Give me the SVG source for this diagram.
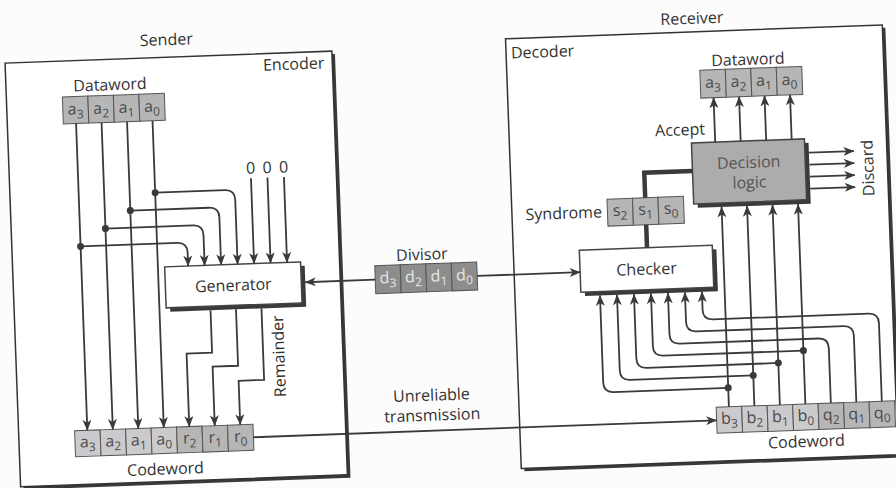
<svg xmlns="http://www.w3.org/2000/svg" width="896" height="488" viewBox="0 0 896 488">
<defs>
<marker id="ah" viewBox="0 0 11 9" refX="10.5" refY="4.5" markerWidth="11" markerHeight="9" markerUnits="userSpaceOnUse" orient="auto">
<path d="M0,0 L11,4.5 L0,9 L3,4.5 z" fill="#3a3a3a"/>
</marker>
<style>
text{font-family:"Open Sans","Noto Sans","Liberation Sans",sans-serif;fill:#333;font-size:16px}
.mid{text-anchor:middle}
.end{text-anchor:end}
.cell{font-size:16px;fill:#4a4a4a;text-anchor:middle}
.dcell{font-size:16px;fill:#e6e6e6;text-anchor:middle}
.sub{font-size:12px}
.gray{fill:#b6b6b6;stroke:#555;stroke-width:1}
.light{fill:#cccacc;stroke:#555;stroke-width:1}
.dark{fill:#8d8d8d;stroke:#555;stroke-width:1}
.frame{fill:#fff;stroke:#333;stroke-width:1.5}
.shadow{fill:#3a3a3a}
.box{fill:#fff;stroke:#444;stroke-width:1.5}
.wire{fill:none;stroke:#3a3a3a;stroke-width:1.8}
.arr{marker-end:url(#ah)}
.thick{fill:none;stroke:#3a3a3a;stroke-width:4.5}
.dot{fill:#3a3a3a}
</style>
</defs>
<rect x="0" y="0" width="896" height="488" fill="#fcfcfc"/>
<g transform="rotate(-2.1 448 244)">

<g id="sender">
<rect class="shadow" x="15" y="50" width="327" height="424"/>
<rect class="frame" x="12" y="47" width="327" height="424"/>
<text class="mid" x="174" y="35">Sender</text>
<text class="end" x="331" y="64">Encoder</text>
</g>

<g id="receiver">
<rect class="shadow" x="516" y="44" width="377" height="430"/>
<rect class="frame" x="513" y="41" width="377" height="430"/>
<text class="mid" x="700" y="33">Receiver</text>
<text x="518" y="61">Decoder</text>
</g>

<g id="sender-dataword">
<text class="mid" x="116" y="78">Dataword</text>
<rect class="gray" x="68" y="83" width="25.5" height="27"/>
<rect class="gray" x="93.5" y="83" width="25.5" height="27"/>
<rect class="gray" x="119" y="83" width="25.5" height="27"/>
<rect class="gray" x="144.5" y="83" width="25.5" height="27"/>
<text class="cell" x="80.75" y="101">a<tspan class="sub" dy="4">3</tspan></text>
<text class="cell" x="106.25" y="101">a<tspan class="sub" dy="4">2</tspan></text>
<text class="cell" x="131.75" y="101">a<tspan class="sub" dy="4">1</tspan></text>
<text class="cell" x="157.25" y="101">a<tspan class="sub" dy="4">0</tspan></text>
</g>

<g id="zeros">
<text class="mid" x="253.5" y="166.5">0</text>
<text class="mid" x="270" y="166.5">0</text>
<text class="mid" x="286.5" y="166.5">0</text>
</g>

<g id="generator">
<rect class="shadow" x="168" y="260.5" width="136" height="41"/>
<rect class="box" x="164" y="256.5" width="136" height="41"/>
<text class="mid" x="232" y="283">Generator</text>
</g>

<g id="remainder-label">
<text class="mid" transform="translate(280.5 350) rotate(-90)">Remainder</text>
</g>

<g id="sender-codeword">
<rect class="light" x="68" y="417" width="25.5" height="26"/>
<rect class="light" x="93.5" y="417" width="25.5" height="26"/>
<rect class="light" x="119" y="417" width="25.5" height="26"/>
<rect class="light" x="144.5" y="417" width="25.5" height="26"/>
<rect class="gray" x="170" y="417" width="25.5" height="26"/>
<rect class="gray" x="195.5" y="417" width="25.5" height="26"/>
<rect class="gray" x="221" y="417" width="25.5" height="26"/>
<text class="cell" x="80.75" y="434">a<tspan class="sub" dy="4">3</tspan></text>
<text class="cell" x="106.25" y="434">a<tspan class="sub" dy="4">2</tspan></text>
<text class="cell" x="131.75" y="434">a<tspan class="sub" dy="4">1</tspan></text>
<text class="cell" x="157.25" y="434">a<tspan class="sub" dy="4">0</tspan></text>
<text class="cell" x="182.75" y="434">r<tspan class="sub" dy="4">2</tspan></text>
<text class="cell" x="208.25" y="434">r<tspan class="sub" dy="4">1</tspan></text>
<text class="cell" x="233.75" y="434">r<tspan class="sub" dy="4">0</tspan></text>
<text class="mid" x="157.5" y="464">Codeword</text>
</g>

<g id="divisor">
<text class="mid" x="421.5" y="259">Divisor</text>
<rect class="dark" x="374" y="263" width="25.5" height="28"/>
<rect class="dark" x="399.5" y="263" width="25.5" height="28"/>
<rect class="dark" x="425" y="263" width="25.5" height="28"/>
<rect class="dark" x="450.5" y="263" width="25.5" height="28"/>
<text class="dcell" x="386.75" y="281">d<tspan class="sub" dy="4">3</tspan></text>
<text class="dcell" x="412.25" y="281">d<tspan class="sub" dy="4">2</tspan></text>
<text class="dcell" x="437.75" y="281">d<tspan class="sub" dy="4">1</tspan></text>
<text class="dcell" x="463.25" y="281">d<tspan class="sub" dy="4">0</tspan></text>
</g>

<g id="channel-label">
<text class="mid" x="426" y="400">Unreliable</text>
<text class="mid" x="426" y="420">transmission</text>
</g>

<g id="receiver-dataword">
<text class="mid" x="754.5" y="76">Dataword</text>
<rect class="gray" x="706" y="79.5" width="25.5" height="28"/>
<rect class="gray" x="731.5" y="79.5" width="25.5" height="28"/>
<rect class="gray" x="757" y="79.5" width="25.5" height="28"/>
<rect class="gray" x="782.5" y="79.5" width="25.5" height="28"/>
<text class="cell" x="718.75" y="97.5">a<tspan class="sub" dy="4">3</tspan></text>
<text class="cell" x="744.25" y="97.5">a<tspan class="sub" dy="4">2</tspan></text>
<text class="cell" x="769.75" y="97.5">a<tspan class="sub" dy="4">1</tspan></text>
<text class="cell" x="795.25" y="97.5">a<tspan class="sub" dy="4">0</tspan></text>
<text class="end" x="709" y="144">Accept</text>
</g>

<g id="decision-logic">
<rect class="shadow" x="699" y="156" width="113" height="61"/>
<rect x="695" y="152" width="113" height="61" fill="#acacac" stroke="#444" stroke-width="1.5"/>
<text class="mid" x="751.5" y="179" style="fill:#555">Decision</text>
<text class="mid" x="751.5" y="199" style="fill:#555">logic</text>
<text class="mid" transform="translate(876 183.5) rotate(-90)">Discard</text>
</g>

<g id="syndrome">
<text class="end" x="603" y="223">Syndrome</text>
<rect class="gray" x="608.5" y="205" width="25.5" height="27"/>
<rect class="gray" x="634" y="205" width="25.5" height="27"/>
<rect class="gray" x="659.5" y="205" width="25.5" height="27"/>
<text class="cell" x="621.25" y="222">s<tspan class="sub" dy="4">2</tspan></text>
<text class="cell" x="646.75" y="222">s<tspan class="sub" dy="4">1</tspan></text>
<text class="cell" x="672.25" y="222">s<tspan class="sub" dy="4">0</tspan></text>
</g>

<g id="checker">
<rect class="shadow" x="583" y="259" width="133" height="42"/>
<rect class="box" x="579" y="255" width="133" height="42"/>
<text class="mid" x="645.5" y="282">Checker</text>
</g>

<g id="receiver-codeword">
<rect class="light" x="710" y="417" width="25.5" height="26"/>
<rect class="light" x="735.5" y="417" width="25.5" height="26"/>
<rect class="light" x="761" y="417" width="25.5" height="26"/>
<rect class="light" x="786.5" y="417" width="25.5" height="26"/>
<rect class="gray" x="812" y="417" width="25.5" height="26"/>
<rect class="gray" x="837.5" y="417" width="25.5" height="26"/>
<rect class="gray" x="863" y="417" width="25.5" height="26"/>
<text class="cell" x="722.75" y="434">b<tspan class="sub" dy="4">3</tspan></text>
<text class="cell" x="748.25" y="434">b<tspan class="sub" dy="4">2</tspan></text>
<text class="cell" x="773.75" y="434">b<tspan class="sub" dy="4">1</tspan></text>
<text class="cell" x="799.25" y="434">b<tspan class="sub" dy="4">0</tspan></text>
<text class="cell" x="824.75" y="434">q<tspan class="sub" dy="4">2</tspan></text>
<text class="cell" x="850.25" y="434">q<tspan class="sub" dy="4">1</tspan></text>
<text class="cell" x="875.75" y="434">q<tspan class="sub" dy="4">0</tspan></text>
<text class="mid" x="799" y="460">Codeword</text>
</g>

<g id="connectors">
<path class="wire arr" d="M80.75,110 V417"/>
<path class="wire arr" d="M106.25,110 V417"/>
<path class="wire arr" d="M131.75,110 V417"/>
<path class="wire arr" d="M157.25,110 V417"/>
<path class="wire arr" d="M157.25,182 H227 Q237,182 237,192 V256.5"/>
<path class="wire arr" d="M131.75,199 H210.5 Q220.5,199 220.5,209 V256.5"/>
<path class="wire arr" d="M106.25,216 H194 Q204,216 204,226 V256.5"/>
<path class="wire arr" d="M80.75,233 H177.5 Q187.5,233 187.5,243 V256.5"/>
<circle class="dot" cx="157.25" cy="182" r="3.5"/>
<circle class="dot" cx="131.75" cy="199" r="3.5"/>
<circle class="dot" cx="106.25" cy="216" r="3.5"/>
<circle class="dot" cx="80.75" cy="233" r="3.5"/>
<path class="wire arr" d="M253.5,171 V256.5"/>
<path class="wire arr" d="M270,171 V256.5"/>
<path class="wire arr" d="M286.5,171 V256.5"/>
<path class="wire arr" d="M208.25,301.5 V344 H182.75 V417"/>
<path class="wire arr" d="M233.75,301.5 V358 H208.25 V417"/>
<path class="wire arr" d="M259.25,301.5 V373 H233.75 V417"/>
<path class="wire arr" d="M374,277 H304"/>
<path class="wire arr" d="M476,277 H579"/>
<path class="wire arr" d="M246.5,430 H710"/>
<path class="thick" d="M646.75,205 V180 H695"/>
<path class="thick" d="M646.75,232 V255"/>
<path class="wire arr" d="M718.75,152 V107.5"/>
<path class="wire arr" d="M744.25,152 V107.5"/>
<path class="wire arr" d="M769.75,152 V107.5"/>
<path class="wire arr" d="M795.25,152 V107.5"/>
<path class="wire arr" d="M812,166 H857"/>
<path class="wire arr" d="M812,178 H857"/>
<path class="wire arr" d="M812,190 H857"/>
<path class="wire arr" d="M812,202 H857"/>
<path class="wire arr" d="M722.75,417 V217"/>
<path class="wire arr" d="M748.25,417 V217"/>
<path class="wire arr" d="M773.75,417 V217"/>
<path class="wire arr" d="M799.25,417 V217"/>
<path class="wire arr" d="M722.75,398 H608 Q598,398 598,388 V301"/>
<path class="wire arr" d="M748.25,386.5 H625 Q615,386.5 615,376.5 V301"/>
<path class="wire arr" d="M773.75,375 H642 Q632,375 632,365 V301"/>
<path class="wire arr" d="M799.25,363.5 H659 Q649,363.5 649,353.5 V301"/>
<path class="wire arr" d="M824.75,417 V362 Q824.75,352 814.75,352 H676 Q666,352 666,342 V301"/>
<path class="wire arr" d="M850.25,417 V350.5 Q850.25,340.5 840.25,340.5 H693 Q683,340.5 683,330.5 V301"/>
<path class="wire arr" d="M875.75,417 V339 Q875.75,329 865.75,329 H710 Q700,329 700,319 V301"/>
<circle class="dot" cx="722.75" cy="398" r="3.5"/>
<circle class="dot" cx="748.25" cy="386.5" r="3.5"/>
<circle class="dot" cx="773.75" cy="375" r="3.5"/>
<circle class="dot" cx="799.25" cy="363.5" r="3.5"/>
</g>
</g>
</svg>
